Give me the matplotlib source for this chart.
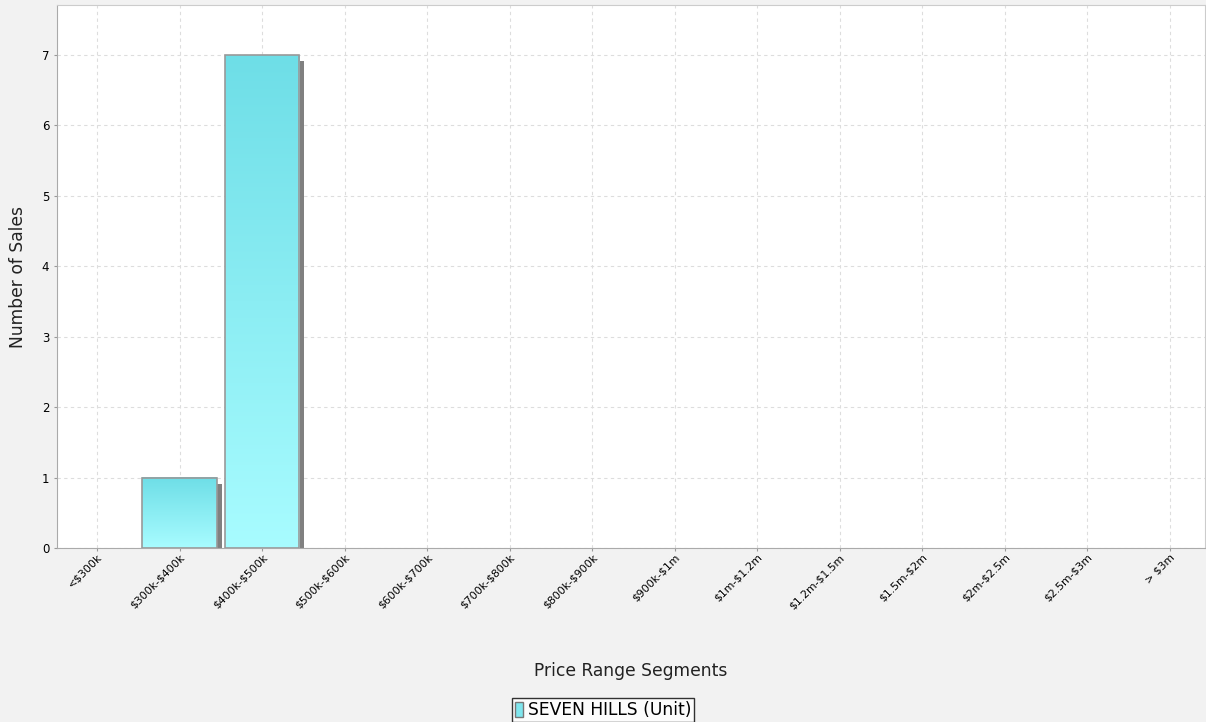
import matplotlib.pyplot as plt
import numpy as np
from matplotlib.patches import Rectangle

plt.rcParams['text.parse_math'] = False
plt.rcParams['font.family'] = ['DejaVu Sans']

categories = ['<$300k', '$300k-$400k', '$400k-$500k', '$500k-$600k', '$600k-$700k',
              '$700k-$800k', '$800k-$900k', '$900k-$1m', '$1m-$1.2m', '$1.2m-$1.5m',
              '$1.5m-$2m', '$2m-$2.5m', '$2.5m-$3m', '> $3m']
sales = [0, 1, 7, 0, 0, 0, 0, 0, 0, 0, 0, 0, 0, 0]
series_name = 'SEVEN HILLS (Unit)'

top_col = np.array([0x6e, 0xde, 0xe7]) / 255
bot_col = np.array([0xa8, 0xfc, 0xff]) / 255

fig = plt.figure(figsize=(12.06, 7.22), dpi=100, facecolor='#f2f2f2')
ax = fig.add_axes([57 / 1206, (722 - 548) / 722, (1205 - 57) / 1206, (548 - 5) / 722])
ax.set_facecolor('white')

x = np.arange(len(categories))
w = 0.9

# shadow offsets in data units (approx 5px right, 6px down)
dx = 5 / 82.5
dy = 6 / 70.4
grad = np.linspace(0, 1, 256)[:, None]
cimg = top_col[None, None, :] * (1 - grad[:, :, None]) + bot_col[None, None, :] * grad[:, :, None]

for xi, v in zip(x, sales):
    if v <= 0:
        continue
    ax.add_patch(Rectangle((xi - w / 2 + dx, 0), w, v - dy, facecolor='#808080',
                           edgecolor='none', zorder=2))
    ax.imshow(cimg, extent=(xi - w / 2, xi + w / 2, 0, v), aspect='auto',
              origin='upper', zorder=3, interpolation='bilinear')
    ax.add_patch(Rectangle((xi - w / 2, 0), w, v, facecolor='none',
                           edgecolor='#999999', linewidth=1.2, zorder=4))

ax.set_xlim(-0.485, 13.43)
ax.set_ylim(0, 7.71)

ax.set_xticks(x)
ax.set_xticklabels(categories, rotation=45, ha='right', va='top',
                   rotation_mode='anchor', fontsize=7.8)
ax.set_yticks(range(0, 8))
ax.tick_params(axis='y', labelsize=8.5, length=2, color='#999999')
ax.tick_params(axis='x', length=2, color='#999999', pad=1)
ax.grid(True, linestyle=(0, (3, 3)), color='#dddddd', linewidth=0.8, zorder=0)
ax.set_axisbelow(True)
for s in ax.spines.values():
    s.set_color('#cccccc')
ax.spines['bottom'].set_color('#aaaaaa')
ax.spines['left'].set_color('#aaaaaa')

ax.set_ylabel('Number of Sales', fontsize=12.3, labelpad=11, color='#222222')
ax.set_xlabel('Price Range Segments', fontsize=12.3, labelpad=37, color='#222222')

handle = Rectangle((0, 0), 1, 1, facecolor='#7fe6ee', edgecolor='#777777')
leg = fig.legend([handle], [series_name], loc='center', bbox_to_anchor=(0.5, 1 - 710 / 722),
                 fontsize=12.3, frameon=True, fancybox=False, handlelength=0.45,
                 handleheight=1.0, handletextpad=0.3, borderpad=0.15, borderaxespad=0)
leg.get_frame().set_edgecolor('black')
leg.get_frame().set_facecolor('white')
leg.get_frame().set_linewidth(1.0)

fig.savefig('out.png', dpi=100, facecolor=fig.get_facecolor())
